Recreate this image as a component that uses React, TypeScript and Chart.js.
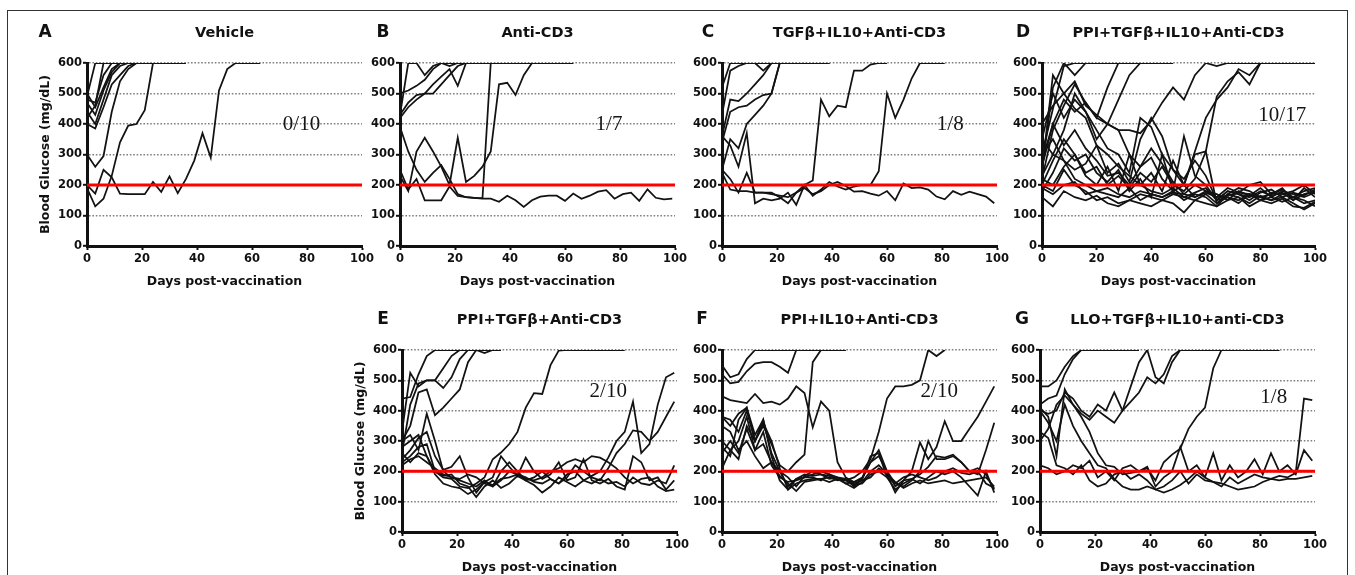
import React, { useEffect, useRef } from 'react';
import { Chart, registerables } from 'chart.js';

Chart.register(...registerables);

// ---------- shared axis values ----------
const xTicks = [0, 20, 40, 60, 80, 100];
const yTicks = [0, 100, 200, 300, 400, 500, 600];
const thresholdValue = 200;
const xTitle = 'Days post-vaccination';
const yTitle = 'Blood Glucose (mg/dL)';

// ---------- A: Vehicle ----------
const aDays = [0, 3, 6, 9, 12, 15, 18, 21, 24, 27, 30, 33, 36, 39, 42, 45, 48, 51, 54, 57, 60, 63];
const aMice = [
  [480, 470, 560, 600, 600, 600, 600, 600, 600, 600, 600, 600, 600],
  [500, 455, 520, 580, 600, 600, 600, 600, 600, 600, 600, 600, 600],
  [470, 430, 510, 570, 600, 600, 600, 600, 600, 600, 600, 600, 600],
  [440, 400, 480, 560, 590, 600, 600, 600, 600, 600, 600, 600, 600],
  [400, 385, 455, 530, 560, 590, 600, 600, 600, 600, 600, 600, 600],
  [420, 460, 600, 600, 600, 600, 600, 600, 600, 600, 600, 600, 600],
  [490, 600, 600, 600, 600, 600, 600, 600, 600, 600, 600, 600, 600],
  [300, 260, 295, 440, 540, 580, 600, 600, 600, 600, 600, 600, 600],
  [190, 130, 155, 230, 340, 395, 400, 445, 600, 600, 600, 600, 600],
  [200, 172, 250, 225, 172, 170, 170, 170, 210, 177, 228, 173, 220, 280, 370, 290, 510, 580, 600, 600, 600, 600],
];

// ---------- B: Anti-CD3 ----------
const bDays = [0, 3, 6, 9, 12, 15, 18, 21, 24, 27, 30, 33, 36, 39, 42, 45, 48, 51, 54, 57, 60, 63, 66, 69, 72, 75, 78, 81, 84, 87, 90, 93, 96, 99];
const bMice = [
  [250, 185, 220, 150, 150, 150, 195, 164, 160, 158, 155, 155, 145, 165, 150, 128, 150, 162, 165, 165, 148, 172, 155, 165, 178, 183, 155, 170, 175, 148, 186, 158, 153, 155],
  [390, 310, 250, 210, 240, 265, 220, 170, 160, 158, 157, 600, 600, 600, 600, 600, 600, 600],
  [230, 180, 310, 355, 310, 260, 200, 355, 210, 230, 260, 310, 530, 535, 495, 560, 600, 600, 600, 600, 600, 600],
  [430, 600, 600, 560, 590, 600, 600, 600, 600, 600, 600],
  [500, 510, 525, 545, 580, 600, 590, 600, 600, 600, 600],
  [430, 470, 495, 500, 500, 530, 560, 590, 600, 600, 600, 600, 600, 600, 600, 600],
  [420, 455, 480, 500, 530, 555, 580, 525, 600, 600, 600, 600, 600, 600, 600, 600, 600, 600, 600, 600, 600, 600],
];

// ---------- C: TGFβ+IL10+Anti-CD3 ----------
const cDays = [0, 3, 6, 9, 12, 15, 18, 21, 24, 27, 30, 33, 36, 39, 42, 45, 48, 51, 54, 57, 60, 63, 66, 69, 72, 75, 78, 81, 84, 87, 90, 93, 96, 99];
const cMice = [
  [240, 185, 180, 180, 175, 175, 170, 165, 160, 175, 190, 170, 180, 200, 210, 197, 178, 180, 172, 165, 180, 150, 205, 190, 192, 185, 162, 153, 180, 168, 178, 170, 162, 140],
  [250, 220, 175, 240, 175, 175, 175, 160, 140, 175, 200, 215, 480, 425, 460, 455, 575, 575, 595, 600, 600],
  [360, 330, 260, 370, 140, 155, 150, 155, 175, 135, 200, 165, 185, 210, 195, 185, 195, 200, 200, 245, 500, 420, 480, 550, 600, 600, 600, 600],
  [520, 600, 600, 600, 600, 600, 600, 600, 600, 600, 600, 600, 600, 600],
  [430, 575, 590, 600, 600, 575, 600, 600, 600, 600, 600, 600, 600, 600],
  [360, 480, 475, 500, 530, 560, 600, 600, 600, 600, 600, 600, 600, 600],
  [340, 440, 455, 460, 480, 495, 500, 600, 600, 600, 600, 600, 600, 600],
  [250, 350, 320, 400, 430, 460, 500, 600, 600, 600, 600, 600, 600, 600],
];

// ---------- D: PPI+TGFβ+IL10+Anti-CD3 ----------
const dDays = [0, 4, 8, 12, 16, 20, 24, 28, 32, 36, 40, 44, 48, 52, 56, 60, 64, 68, 72, 76, 80, 84, 88, 92, 96, 100];
const dMice = [
  [250, 520, 600, 560, 600, 600, 600, 600, 600, 600, 600, 600, 600],
  [300, 450, 590, 600, 600, 600, 600, 600, 600, 600, 600, 600, 600],
  [220, 380, 460, 530, 470, 420, 520, 600, 600, 600, 600, 600, 600],
  [350, 500, 420, 480, 440, 350, 400, 480, 560, 600, 600, 600, 600],
  [280, 400, 480, 440, 470, 420, 400, 380, 380, 370, 410, 470, 520, 480, 560, 600, 590, 600, 600, 600, 600, 600, 600, 600, 600, 600],
  [230, 300, 280, 250, 270, 330, 240, 270, 210, 350, 420, 360, 250, 200, 310, 420, 480, 520, 580, 560, 600, 600, 600, 600, 600, 600],
  [200, 280, 350, 300, 240, 260, 200, 230, 190, 240, 210, 260, 200, 180, 220, 310, 490, 540, 570, 530, 600, 600, 600, 600, 600, 600],
  [200, 180, 250, 200, 180, 150, 160, 140, 150, 170, 160, 150, 170, 160, 150, 170, 140, 160, 150, 170, 160, 150, 170, 160, 140, 150],
  [300, 350, 280, 220, 200, 180, 170, 160, 190, 150, 170, 160, 180, 150, 170, 160, 130, 170, 160, 140, 165, 150, 160, 140, 120, 140],
  [400, 460, 500, 450, 420, 330, 300, 260, 230, 200, 180, 170, 190, 160, 175, 190, 150, 180, 170, 160, 180, 165, 175, 150, 170, 180],
  [250, 560, 500, 540, 460, 430, 400, 380, 300, 260, 290, 220, 180, 200, 160, 180, 170, 150, 180, 165, 190, 160, 180, 170, 160, 175],
  [180, 240, 320, 280, 300, 240, 210, 250, 180, 220, 160, 300, 180, 360, 230, 200, 150, 180, 170, 150, 175, 185, 160, 175, 165, 185],
  [220, 200, 260, 300, 230, 200, 260, 180, 300, 200, 240, 180, 280, 200, 300, 310, 140, 170, 190, 180, 160, 170, 190, 150, 190, 160],
  [160, 130, 180, 160, 150, 165, 140, 130, 150, 140, 130, 150, 140, 110, 150, 140, 130, 150, 160, 130, 150, 140, 155, 130, 125, 145],
  [260, 400, 330, 380, 320, 280, 230, 240, 200, 260, 320, 270, 210, 170, 200, 180, 160, 190, 175, 200, 210, 170, 185, 160, 180, 190],
  [190, 170, 200, 210, 170, 180, 190, 170, 160, 180, 170, 160, 175, 170, 160, 175, 160, 165, 175, 170, 150, 175, 170, 180, 200, 170],
  [350, 300, 380, 500, 440, 380, 320, 300, 240, 420, 390, 300, 250, 220, 280, 230, 150, 160, 140, 170, 150, 160, 145, 160, 150, 130],
];

// ---------- E: PPI+TGFβ+Anti-CD3 ----------
const eDays = [0, 3, 6, 9, 12, 15, 18, 21, 24, 27, 30, 33, 36, 39, 42, 45, 48, 51, 54, 57, 60, 63, 66, 69, 72, 75, 78, 81, 84, 87, 90, 93, 96, 99];
const eMice = [
  [440, 445, 520, 580, 600, 600, 600, 600, 600, 600, 600, 600, 600],
  [330, 525, 480, 500, 500, 475, 510, 570, 600, 600, 600, 600, 600],
  [300, 350, 460, 470, 385, 410, 440, 470, 560, 600, 590, 600, 600],
  [260, 420, 490, 500, 500, 540, 580, 600, 600, 600, 600, 600, 600],
  [280, 300, 320, 250, 200, 180, 175, 150, 145, 160, 180, 240, 262, 290, 330, 410, 458, 455, 550, 598, 600, 600, 600, 600, 600, 600, 600, 600],
  [300, 320, 270, 390, 300, 200, 180, 170, 160, 150, 170, 150, 170, 200, 190, 180, 165, 160, 175, 160, 190, 200, 170, 185, 200, 245, 300, 330, 430, 260, 290, 420, 510, 525],
  [220, 240, 250, 230, 210, 190, 180, 175, 190, 180, 160, 150, 200, 230, 200, 170, 180, 200, 175, 160, 180, 220, 200, 180, 170, 210, 260, 290, 335, 330, 300, 330, 380, 430],
  [240, 270, 310, 330, 250, 205, 215, 250, 180, 130, 165, 180, 250, 215, 185, 245, 200, 175, 190, 230, 170, 180, 240, 170, 160, 175, 150, 140, 250, 230, 170, 180, 140, 170],
  [230, 250, 280, 290, 200, 185, 190, 160, 150, 115, 150, 170, 145, 160, 185, 170, 155, 130, 150, 180, 165, 150, 170, 160, 175, 160, 165, 150, 180, 160, 155, 170, 160, 220],
  [260, 230, 260, 250, 190, 160, 150, 145, 125, 140, 165, 155, 175, 180, 190, 175, 170, 180, 200, 210, 230, 240, 230, 250, 245, 230, 210, 180, 160, 175, 180, 150, 135, 140],
];

// ---------- F: PPI+IL10+Anti-CD3 ----------
const fDays = [0, 3, 6, 9, 12, 15, 18, 21, 24, 27, 30, 33, 36, 39, 42, 45, 48, 51, 54, 57, 60, 63, 66, 69, 72, 75, 78, 81, 84, 87, 90, 93, 96, 99];
const fMice = [
  [550, 510, 520, 570, 600, 600, 600, 600, 600, 600, 600, 600, 600, 600, 600, 600],
  [520, 490, 495, 530, 555, 560, 560, 545, 525, 600, 600, 600, 600, 600, 600, 600],
  [447, 435, 430, 425, 455, 425, 430, 420, 440, 480, 458, 345, 430, 400, 230, 180, 165, 175, 230, 270, 200, 160, 150, 170, 200, 300, 240, 240, 250, 230, 200, 210, 190, 140],
  [380, 370, 330, 400, 300, 350, 290, 220, 200, 230, 255, 560, 600, 600, 600, 600],
  [300, 270, 300, 380, 270, 330, 220, 180, 165, 170, 180, 180, 170, 190, 175, 170, 180, 200, 240, 330, 440, 480, 480, 485, 500, 600, 580, 600],
  [280, 250, 370, 410, 300, 370, 260, 200, 150, 175, 190, 185, 190, 175, 180, 160, 165, 180, 230, 250, 200, 150, 170, 200, 295, 240, 280, 365, 300, 300, 340, 380, 430, 480],
  [210, 270, 240, 350, 300, 360, 300, 210, 140, 175, 180, 190, 200, 190, 180, 175, 150, 175, 250, 260, 180, 140, 160, 175, 190, 215, 250, 245, 255, 230, 200, 190, 270, 360],
  [380, 350, 390, 410, 320, 370, 250, 170, 140, 160, 170, 175, 175, 165, 175, 160, 145, 165, 200, 220, 190, 165, 145, 160, 170, 160, 165, 170, 160, 165, 170, 175, 180, 150],
  [260, 300, 260, 340, 270, 290, 230, 185, 160, 135, 165, 170, 175, 180, 170, 175, 160, 170, 180, 210, 190, 130, 170, 175, 160, 180, 200, 190, 200, 180, 150, 120, 200, 130],
  [350, 330, 270, 300, 250, 210, 230, 200, 180, 150, 185, 200, 190, 185, 175, 170, 155, 160, 190, 200, 180, 160, 180, 190, 180, 170, 180, 200, 210, 195, 190, 200, 160, 145],
];

// ---------- G: LLO+TGFβ+IL10+anti-CD3 ----------
const gDays = [0, 3, 6, 9, 12, 15, 18, 21, 24, 27, 30, 33, 36, 39, 42, 45, 48, 51, 54, 57, 60, 63, 66, 69, 72, 75, 78, 81, 84, 87, 90, 93, 96, 99];
const gMice = [
  [480, 480, 500, 545, 580, 600, 600, 600, 600, 600, 600, 600, 600],
  [420, 440, 450, 520, 570, 600, 600, 600, 600, 600, 600, 600, 600],
  [400, 390, 400, 460, 440, 400, 380, 420, 400, 460, 400, 430, 460, 510, 490, 520, 580, 600, 600, 600, 600, 600, 600, 600, 600, 600, 600, 600, 600, 600],
  [300, 340, 420, 450, 420, 390, 370, 400, 380, 360, 400, 480, 560, 600, 510, 490, 560, 600, 600, 600, 600, 600, 600, 600, 600, 600, 600, 600, 600, 600],
  [410, 380, 250, 470, 420, 380, 330, 260, 220, 215, 190, 195, 200, 210, 170, 230, 255, 275, 340, 380, 410, 540, 600, 600, 600, 600, 600, 600, 600, 600],
  [330, 310, 220, 210, 190, 220, 170, 150, 160, 190, 200, 175, 190, 170, 140, 150, 170, 200, 160, 190, 170, 165, 150, 180, 160, 175, 190, 180, 175, 185, 180, 195, 440, 435],
  [220, 210, 190, 200, 220, 210, 235, 180, 200, 170, 210, 220, 200, 215, 150, 180, 200, 280, 200, 220, 180, 260, 170, 220, 180, 200, 240, 190, 260, 200, 220, 190, 270, 235],
  [400, 360, 300, 420, 350, 300, 260, 220, 210, 175, 150, 140, 140, 150, 140, 130, 140, 155, 175, 200, 180, 165, 160, 150, 140, 145, 150, 165, 175, 170, 175, 175, 180, 185],
];

// ---------- panel labels ----------
const panelLetters = ['A', 'B', 'C', 'D', 'E', 'F', 'G'];
const panelTitles = ['Vehicle', 'Anti-CD3', 'TGFβ+IL10+Anti-CD3', 'PPI+TGFβ+IL10+Anti-CD3', 'PPI+TGFβ+Anti-CD3', 'PPI+IL10+Anti-CD3', 'LLO+TGFβ+IL10+anti-CD3'];
const panelRatios = ['0/10', '1/7', '1/8', '10/17', '2/10', '2/10', '1/8'];
const ratioDay = [78, 76, 83, 88, 75, 79, 85];
const ratioGlucose = [400, 400, 400, 427, 462, 462, 445];
const panelDays = [aDays, bDays, cDays, dDays, eDays, fDays, gDays];
const panelMice = [aMice, bMice, cMice, dMice, eMice, fMice, gMice];

// ---------- layout (pixels) ----------
const layoutBoxes = [
  { x0: 87, x1: 362, yTop: 63, yBot: 246, letterDx: 42, showY: true },
  { x0: 400, x1: 675, yTop: 63, yBot: 246, letterDx: 17, showY: false },
  { x0: 722, x1: 997, yTop: 63, yBot: 246, letterDx: 14, showY: false },
  { x0: 1042, x1: 1315, yTop: 63, yBot: 246, letterDx: 19, showY: false },
  { x0: 402, x1: 677, yTop: 350, yBot: 532, letterDx: 19, showY: true },
  { x0: 722, x1: 997, yTop: 350, yBot: 532, letterDx: 20, showY: false },
  { x0: 1040, x1: 1315, yTop: 350, yBot: 532, letterDx: 18, showY: false },
];

const PAD_L = 10, AX_W = 50, PAD_R = 25, PAD_T = 40, AX_H = 50;
const FONT = '"DejaVu Sans", "Liberation Sans", Arial, sans-serif';

function Panel({ idx }: { idx: number }) {
  const ref = useRef<HTMLCanvasElement | null>(null);
  const box = layoutBoxes[idx];
  const w = PAD_L + AX_W + (box.x1 - box.x0) + PAD_R;
  const h = PAD_T + (box.yBot - box.yTop) + AX_H;
  const left = box.x0 - PAD_L - AX_W;
  const top = box.yTop - PAD_T;

  useEffect(() => {
    const canvas = ref.current;
    if (!canvas) return;
    const days = panelDays[idx];
    const mice = panelMice[idx];
    const datasets: any[] = [
      {
        data: [{ x: xTicks[0], y: thresholdValue }, { x: xTicks[xTicks.length - 1], y: thresholdValue }],
        borderColor: '#ff0000',
        borderWidth: 3,
        pointRadius: 0,
        order: 0,
      },
      ...mice.map((vals) => ({
        data: vals.map((v, i) => ({ x: days[i], y: v })),
        borderColor: '#121212',
        borderWidth: 1.75,
        pointRadius: 0,
        tension: 0,
        order: 1,
      })),
    ];

    const textPlugin = {
      id: 'panelText' + idx,
      afterDraw(chart: any) {
        const { ctx, chartArea: a, scales } = chart;
        const cx = (a.left + a.right) / 2;
        ctx.save();
        ctx.fillStyle = '#111';
        ctx.textAlign = 'center';
        ctx.textBaseline = 'middle';
        ctx.font = 'bold 17px ' + FONT;
        ctx.fillText(panelLetters[idx], a.left - box.letterDx, a.top - 30);
        ctx.font = 'bold 14.5px ' + FONT;
        ctx.fillText(panelTitles[idx], cx, a.top - 30);
        ctx.font = 'bold 12.5px ' + FONT;
        ctx.fillText(xTitle, cx, a.bottom + 36);
        if (box.showY) {
          ctx.save();
          ctx.translate(a.left - 41, (a.top + a.bottom) / 2);
          ctx.rotate(-Math.PI / 2);
          ctx.fillText(yTitle, 0, 0);
          ctx.restore();
        }
        ctx.font = '21px "Liberation Serif", "Times New Roman", serif';
        ctx.fillStyle = '#151515';
        ctx.fillText(panelRatios[idx], scales.x.getPixelForValue(ratioDay[idx]), scales.y.getPixelForValue(ratioGlucose[idx]));
        ctx.restore();
      },
    };

    const tickFont = { family: FONT, weight: 'bold' as const, size: 11.5 };
    const chart = new Chart(canvas, {
      type: 'line',
      data: { datasets },
      options: {
        responsive: false,
        animation: false,
        events: [],
        layout: { padding: { left: PAD_L, right: PAD_R, top: PAD_T, bottom: 0 } },
        plugins: { legend: { display: false }, tooltip: { enabled: false }, title: { display: false } },
        elements: { point: { radius: 0 }, line: { tension: 0 } },
        scales: {
          x: {
            type: 'linear',
            min: xTicks[0],
            max: xTicks[xTicks.length - 1],
            afterFit: (s: any) => { s.height = AX_H; },
            afterBuildTicks: (s: any) => { s.ticks = xTicks.map((v) => ({ value: v })); },
            ticks: { color: '#111', font: tickFont, padding: 2, maxRotation: 0, autoSkip: false },
            grid: { drawOnChartArea: false, drawTicks: true, tickLength: 4, tickColor: '#111', tickWidth: 2 },
            border: { color: '#111', width: 3 },
          },
          y: {
            type: 'linear',
            min: yTicks[0],
            max: yTicks[yTicks.length - 1],
            afterFit: (s: any) => { s.width = AX_W; },
            afterBuildTicks: (s: any) => { s.ticks = yTicks.map((v) => ({ value: v })); },
            ticks: { color: '#111', font: tickFont, padding: 1, autoSkip: false },
            grid: {
              color: (c: any) => (c.tick && c.tick.value === 0 ? 'rgba(0,0,0,0)' : '#808080'),
              lineWidth: 1.6,
              drawTicks: true,
              tickLength: 4,
              tickColor: '#111',
              tickWidth: 2,
            },
            border: { color: '#111', width: 3, dash: [1.6, 1.8] },
          },
        },
      } as any,
      plugins: [textPlugin],
    });
    return () => chart.destroy();
  }, [idx]);

  return (
    <canvas
      ref={ref}
      width={w}
      height={h}
      style={{ position: 'absolute', left, top, width: w, height: h }}
    />
  );
}

export default function App() {
  return (
    <div style={{ position: 'absolute', left: 0, top: 0, width: 1355, height: 575, overflow: 'hidden', background: '#fff' }}>
      <div
        style={{
          position: 'absolute',
          left: 7,
          top: 10,
          width: 1341,
          height: 620,
          borderTop: '1.5px solid #333',
          borderLeft: '1.5px solid #333',
          borderRight: '1.5px solid #333',
          boxSizing: 'border-box',
        }}
      />
      {layoutBoxes.map((_, i) => (
        <Panel key={i} idx={i} />
      ))}
    </div>
  );
}
